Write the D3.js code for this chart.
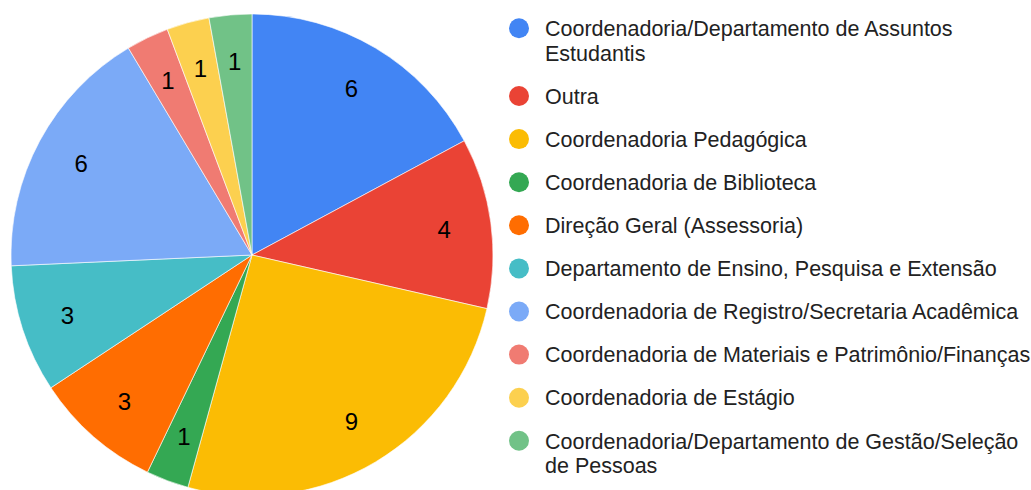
<!DOCTYPE html>
<html>
<head>
<meta charset="utf-8">
<script src="https://cdn.jsdelivr.net/npm/d3@7"></script>
<style>
  html, body { margin: 0; padding: 0; background: #fff; }
  svg { display: block; }
  text { font-family: "Liberation Sans", Arial, sans-serif; }
</style>
</head>
<body>
<svg id="chart" width="1031" height="490"></svg>
<script>
const categories = [
  "Coordenadoria/Departamento de Assuntos Estudantis",
  "Outra",
  "Coordenadoria Pedagógica",
  "Coordenadoria de Biblioteca",
  "Direção Geral (Assessoria)",
  "Departamento de Ensino, Pesquisa e Extensão",
  "Coordenadoria de Registro/Secretaria Acadêmica",
  "Coordenadoria de Materiais e Patrimônio/Finanças",
  "Coordenadoria de Estágio",
  "Coordenadoria/Departamento de Gestão/Seleção de Pessoas"
];
const values = [6, 4, 9, 1, 3, 3, 6, 1, 1, 1];
const colors = ["#4285F4", "#EA4335", "#FBBC04", "#34A853", "#FF6D01",
                "#46BDC6", "#7BAAF7", "#F07B72", "#FCD04F", "#71C287"];

const svg = d3.select("#chart");
const cx = 252, cy = 255, R = 241;

const data = categories.map((c, i) => ({ name: c, value: values[i], color: colors[i] }));

const pie = d3.pie().value(d => d.value).sort(null);
const arcs = pie(data);
const arc = d3.arc().innerRadius(0).outerRadius(R);
const labelArc = d3.arc().innerRadius(194).outerRadius(194);

const g = svg.append("g").attr("transform", `translate(${cx},${cy})`);
g.selectAll("path.slice").data(arcs).enter().append("path")
  .attr("class", "slice")
  .attr("d", arc)
  .attr("fill", d => d.data.color)
  .attr("stroke", "#ffffff")
  .attr("stroke-width", 0.6);

g.selectAll("text.lbl").data(arcs).enter().append("text")
  .attr("class", "lbl")
  .attr("transform", d => `translate(${labelArc.centroid(d)})`)
  .attr("text-anchor", "middle")
  .attr("dy", "0.36em")
  .attr("font-size", 24)
  .attr("fill", "#000")
  .text(d => d.data.value);

// Legend
const legX = 519, textX = 545, maxW = 500;
const firstY = 28.3, itemGap = 43.1, lineH = 24.6;
const fs = 21.5;
const leg = svg.append("g");
let y = firstY;
data.forEach((d, i) => {
  leg.append("circle").attr("cx", legX).attr("cy", y).attr("r", 10).attr("fill", d.color);
  const t = leg.append("text").attr("x", textX).attr("font-size", fs).attr("fill", "#222");
  const words = d.name.split(" ");
  let lines = [], cur = "";
  const probe = leg.append("text").attr("font-size", fs);
  words.forEach(w => {
    const test = cur ? cur + " " + w : w;
    probe.text(test);
    if (cur && probe.node().getComputedTextLength() > maxW) {
      lines.push(cur); cur = w;
    } else cur = test;
  });
  lines.push(cur);
  probe.remove();
  lines.forEach((ln, k) => {
    t.append("tspan").attr("x", textX).attr("y", y + k * lineH).attr("dy", "0.36em").text(ln);
  });
  y += itemGap + (lines.length - 1) * lineH;
});
</script>
</body>
</html>
